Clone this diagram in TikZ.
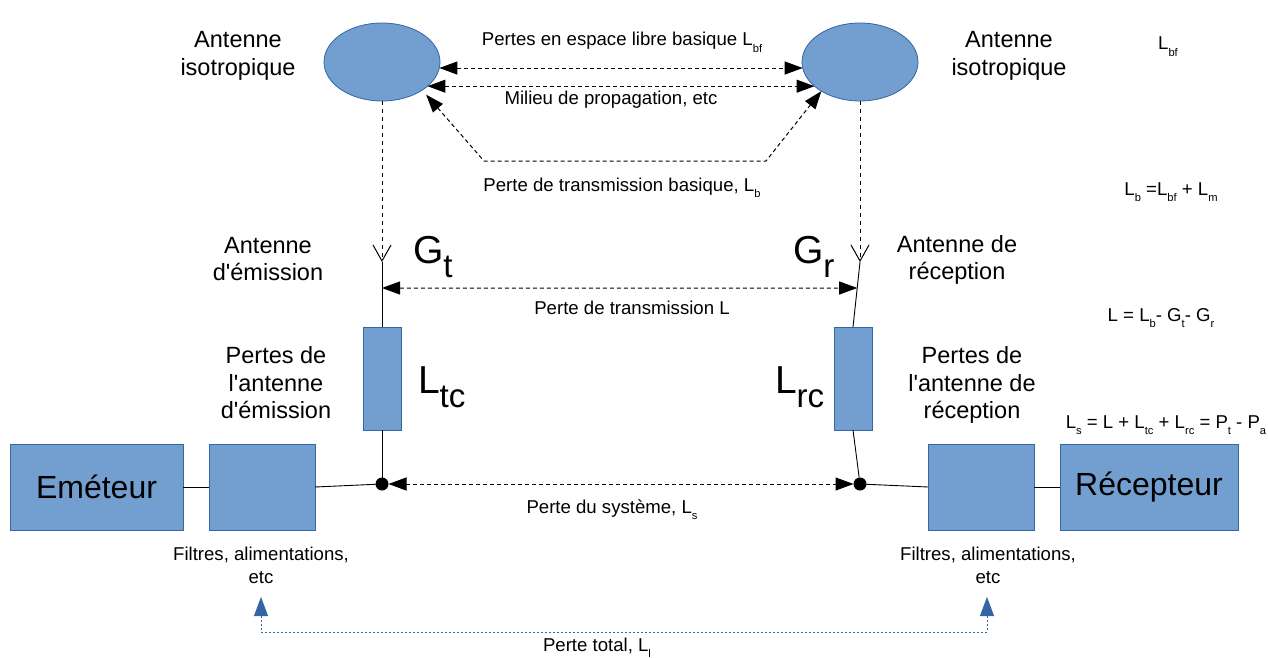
\documentclass[tikz,border=0pt]{standalone}
\usepackage{graphicx}
\usepackage{fontspec}
\setmainfont{Liberation Sans}
\usetikzlibrary{arrows.meta,shapes.geometric,calc}
\definecolor{boxfill}{HTML}{729FCF}
\definecolor{boxedge}{HTML}{3465A4}
% small lowered index for the loss symbols
\newcommand\sbs[1]{\raisebox{-0.34em}{\scalebox{0.6}{#1}}}
% larger index for the gain and loss letters beside the antennas
\newcommand\bsb[1]{\raisebox{-0.36em}{\scalebox{0.85}{#1}}}
% straight apostrophe
\newcommand\ap{\textquotesingle}

\begin{document}
\begin{tikzpicture}[x=1pt,y=-1pt,
  every node/.style={inner sep=0pt, outer sep=0pt},
  blk/.style={draw=boxedge, fill=boxfill, line width=0.8pt, rectangle},
  iso/.style={draw=boxedge, fill=boxfill, line width=0.8pt, ellipse,
              minimum width=116pt, minimum height=78pt},
  lbl/.style={font=\fontsize{18.6}{23}\selectfont, align=center},
  lname/.style={font=\fontsize{23.5}{27.5}\selectfont, align=center},
  devtext/.style={font=\fontsize{32}{36}\selectfont},
  gaintext/.style={font=\fontsize{39}{44}\selectfont},
  wire/.style={line width=0.9pt},
  meas/.style={line width=1pt, dash pattern=on 4pt off 3pt},
  probe/.style={line width=0.8pt, dash pattern=on 4pt off 4pt},
  twoheads/.style={{Triangle[length=18pt,width=13pt]}-{Triangle[length=18pt,width=13pt]}},
  barb/.style={-{Straight Barb[length=16pt,width=18pt,line width=1pt]}},
  dot/.style={circle, fill=black, minimum size=13pt},
  totalline/.style={draw=boxedge, line width=0.9pt, dash pattern=on 2pt off 2pt,
    {Triangle[length=19pt,width=14pt]}-{Triangle[length=19pt,width=14pt]}}
]
\useasboundingbox (0,0) rectangle (1268,658);

% isotropic antennas
\node[iso] (eL) at (382,62) {};
\node[iso] (eR) at (860,62) {};
\node[lname] at (238,56) {Antenne\\isotropique};
\node[lname] at (1009,56) {Antenne\\isotropique};

% losses between the isotropic antennas
\node[lbl, anchor=base] at (622,46) {Pertes en espace libre basique L\sbs{bf}};
\draw[meas, twoheads] (eL.-6) -- (eR.186);
\draw[meas, twoheads] (eL.-28) -- (eR.208);
\node[lbl, anchor=base] at (611,105) {Milieu de propagation, etc};
\draw[meas, twoheads, shorten <=6pt] (eL.-35) -- (484,161) -- (766,161) -- (eR.-143);
\node[lbl, anchor=base] at (622,191) {Perte de transmission basique, L\sbs{b}};

% real antennas
\coordinate (aT) at (382,262);
\coordinate (aR) at (860,262);
\draw[probe, barb] (eL.south) -- (aT);
\draw[probe, barb] (eR.south) -- (aR);
\node[lname] at (268,259) {Antenne\\d\ap émission};
\node[lname] at (957,260) {Antenne de\\réception};
\node[gaintext, anchor=base west] at (413,263) {G\bsb{t}};
\node[gaintext, anchor=base west] at (793,263) {G\bsb{r}};

% antenna circuit losses
\node[blk, minimum width=38pt, minimum height=103pt] (cT) at (382,378.5) {};
\node[blk, minimum width=38pt, minimum height=103pt] (cR) at (853,378.5) {};
\draw[wire] (aT) -- (cT.north);
\draw[wire] (aR) -- (cR.north);
\node[gaintext, anchor=base west] at (418,393) {L\bsb{tc}};
\node[gaintext, anchor=base west] at (775,393) {L\bsb{rc}};
\node[lname] at (276,383) {Pertes de\\l\ap antenne\\d\ap émission};
\node[lname] at (972,385) {Pertes de\\l\ap antenne de\\réception};

% transmission loss
\coordinate (gT) at (382,288);
\draw[meas, twoheads] (gT) -- ($(aR)!0.4!(cR.north)$);
\node[lbl, anchor=base] at (632,314) {Perte de transmission L};

% system terminals
\node[dot] (dT) at (382,484) {};
\node[dot] (dR) at (860,484) {};
\draw[wire] (cT.south) -- (dT);
\draw[wire] (cR.south) -- (dR);

% transmitter and receiver chains
\node[blk, minimum width=173pt, minimum height=86pt, devtext] (tx) at (96.5,487) {Eméteur};
\node[blk, minimum width=106pt, minimum height=86pt] (fT) at (262,487) {};
\node[blk, minimum width=106pt, minimum height=86pt] (fR) at (981,487) {};
\node[blk, minimum width=178pt, minimum height=86pt, devtext] (rx) at (1149,487) {Récepteur};
\draw[wire] (tx) -- (fT);
\draw[wire] (fT.east) -- (dT);
\draw[wire] (dR) -- (fR.west);
\draw[wire] (fR) -- (rx);
\draw[meas, twoheads] (dT) -- (dR);
\node[lbl, anchor=base] at (612,513) {Perte du système, L\sbs{s}};

\node[lbl] at (261,565) {Filtres, alimentations,\\etc};
\node[lbl] at (988,565) {Filtres, alimentations,\\etc};

% total loss
\coordinate (pL) at (261,597);
\coordinate (pR) at (987,597);
\draw[totalline] (pL) -- (261,632) -- (987,632) -- (pR);
\node[lbl, anchor=base] at (597,651) {Perte total, L\sbs{l}};

% relations
\node[lbl, anchor=base] at (1168,50) {L\sbs{bf}};
\node[lbl, anchor=base] at (1171,195) {L\sbs{b} =L\sbs{bf} + L\sbs{m}};
\node[lbl, anchor=base] at (1161,321) {L = L\sbs{b}- G\sbs{t}- G\sbs{r}};
\node[lbl, anchor=base] at (1166,428) {L\sbs{s} = L + L\sbs{tc} + L\sbs{rc} = P\sbs{t} - P\sbs{a}};
\end{tikzpicture}
\end{document}
